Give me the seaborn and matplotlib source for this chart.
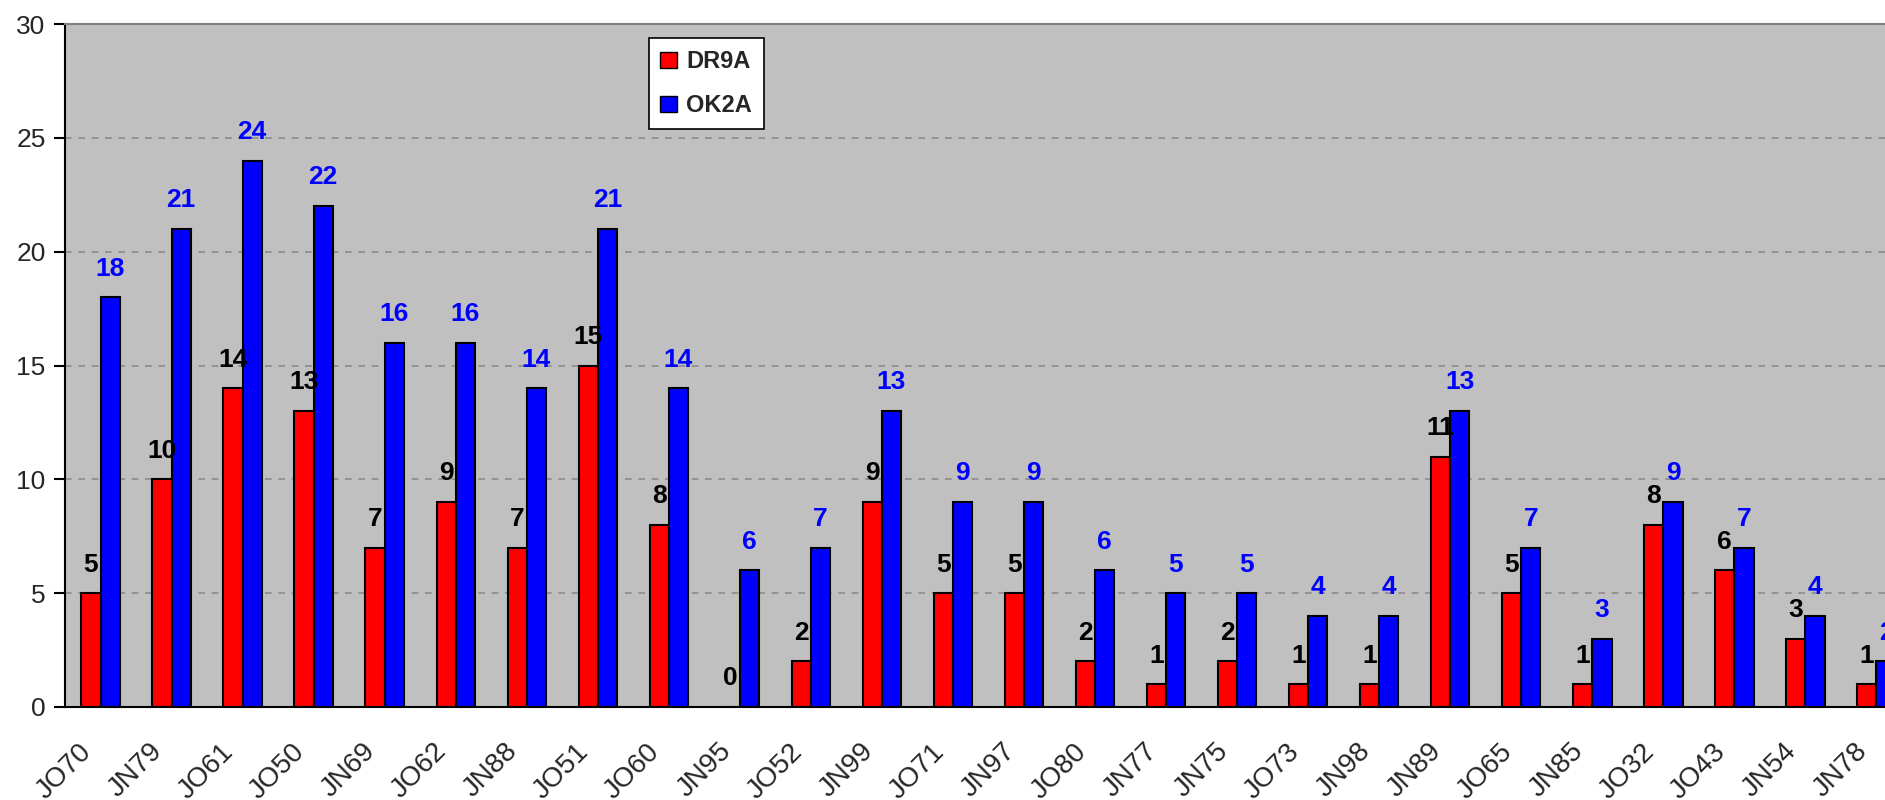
#!/usr/bin/env python3

import numpy as np
import pandas as pd
import seaborn as sns
import matplotlib
matplotlib.use("Agg")
import matplotlib.pyplot as plt
import matplotlib.transforms as mtrans
from matplotlib.patches import Patch

squares = ["JO70", "JN79", "JO61", "JO50", "JN69", "JO62", "JN88", "JO51", "JO60",
           "JN95", "JO52", "JN99", "JO71", "JN97", "JO80", "JN77", "JN75", "JO73",
           "JN98", "JN89", "JO65", "JN85", "JO32", "JO43", "JN54", "JN78"]
dr9a = [5, 10, 14, 13, 7, 9, 7, 15, 8, 0, 2, 9, 5, 5, 2, 1, 2, 1, 1, 11, 5, 1, 8, 6, 3, 1]
ok2a = [18, 21, 24, 22, 16, 16, 14, 21, 14, 6, 7, 13, 9, 9, 6, 5, 5, 4, 4, 13, 7, 3, 9, 7, 4, 2]
stations = ["DR9A", "OK2A"]
colors = {"DR9A": "#FF0000", "OK2A": "#0000FF"}
label_colors = {"DR9A": "black", "OK2A": "#0000FF"}

df = pd.DataFrame({
    "square": squares * 2,
    "count": dr9a + ok2a,
    "station": ["DR9A"] * len(squares) + ["OK2A"] * len(squares),
})

sns.set_style("white")
plt.rcParams["font.family"] = ["Liberation Sans", "DejaVu Sans"]

fig = plt.figure(figsize=(18.85, 8), dpi=100)
# axes keeps going past the right edge, like the cropped original
ax = fig.add_axes([65 / 1885, 93 / 800, 1847 / 1885, 683 / 800])
ax.set_facecolor("#C0C0C0")

sns.barplot(data=df, x="square", y="count", hue="station", hue_order=stations,
            palette=colors, saturation=1, width=0.54, gap=0,
            edgecolor="black", linewidth=1.5, ax=ax)

for cont, st in zip(ax.containers, stations):
    ax.bar_label(cont, padding=12, fontsize=19, fontweight="bold",
                 color=label_colors[st])

ax.set_xlim(-0.5, len(squares) - 0.5)
ax.set_ylim(0, 30)
ax.set_yticks(range(0, 31, 5))
ax.set_yticklabels([str(v) for v in range(0, 31, 5)], fontsize=19)
ax.yaxis.grid(True, color="#8c8c8c", linestyle=(0, (4, 4)), linewidth=1.2)
ax.set_axisbelow(True)

# labels at centres, tick marks on the category boundaries
ax.set_xticks(range(len(squares)))
ax.set_xticklabels(squares, rotation=45, ha="right", rotation_mode="anchor",
                   fontsize=20)
ax.set_xticks(np.arange(-0.5, len(squares), 1), minor=True)
ax.tick_params(axis="x", which="major", length=0, pad=14)
ax.tick_params(axis="x", which="minor", length=8, width=1.5, color="black")
ax.tick_params(axis="y", left=True, length=8, width=1.5, color="black", pad=6)
shift = mtrans.ScaledTranslation(-22 / 100, -12 / 100, fig.dpi_scale_trans)
for lbl in ax.get_xticklabels():
    lbl.set_transform(lbl.get_transform() + shift)

ax.set_xlabel("")
ax.set_ylabel("")
for side in ["left", "bottom"]:
    ax.spines[side].set_color("black")
    ax.spines[side].set_linewidth(1.5)
ax.spines["top"].set_color("#808080")
ax.spines["top"].set_linewidth(1.5)
ax.spines["right"].set_visible(False)

handles = [Patch(facecolor=colors[s], edgecolor="black", linewidth=1) for s in stations]
leg = ax.legend(handles, stations, loc="upper left", bbox_to_anchor=(0.316, 0.979),
                prop={"size": 17, "weight": "bold"}, frameon=True, fancybox=False,
                handlelength=0.7, handleheight=0.7, handletextpad=0.4,
                labelspacing=0.9, borderpad=0.5, borderaxespad=0)
leg.get_frame().set_edgecolor("black")
leg.get_frame().set_linewidth(1.2)
leg.get_frame().set_facecolor("white")
leg.get_frame().set_alpha(1)

fig.savefig("out.png", dpi=100)
